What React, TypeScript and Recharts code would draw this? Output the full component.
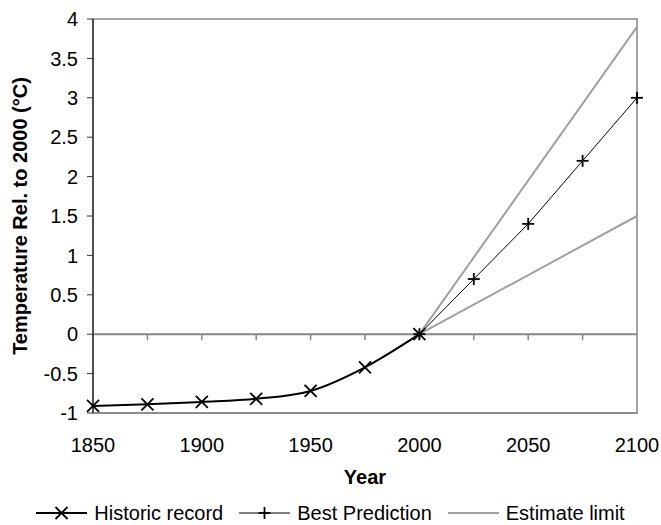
import React from 'react';
import {
  LineChart,
  Line,
  XAxis,
  YAxis,
  Legend,
  ReferenceLine,
  ReferenceArea,
} from 'recharts';

const years = [1850, 1875, 1900, 1925, 1950, 1975, 2000, 2025, 2050, 2075, 2100];
const historic = [-0.91, -0.89, -0.86, -0.82, -0.72, -0.42, 0, null, null, null, null];
const best = [null, null, null, null, null, null, 0, 0.7, 1.4, 2.2, 3.0];
const upperLimit = [null, null, null, null, null, null, 0, null, null, null, 3.9];
const lowerLimit = [null, null, null, null, null, null, 0, null, null, null, 1.5];

const xTicks = [1850, 1900, 1950, 2000, 2050, 2100];
const yTicks = [-1, -0.5, 0, 0.5, 1, 1.5, 2, 2.5, 3, 3.5, 4];
const zeroTicks = [1875, 1900, 1925, 1950, 1975, 2000, 2025, 2050, 2075];
const legendOrder = ['historic', 'best', 'upper'];

const data = years.map((year, i) => ({
  year,
  historic: historic[i],
  best: best[i],
  upper: upperLimit[i],
  lower: lowerLimit[i],
}));

const FONT = '"Liberation Sans", Arial, sans-serif';
const AXIS = '#868686';
const LIMIT = '#a0a0a0';

const XMark = ({ cx, cy, r = 6 }: any) => (
  <g stroke='#000' strokeWidth={1.8}>
    <line x1={cx - r} y1={cy - r} x2={cx + r} y2={cy + r} />
    <line x1={cx - r} y1={cy + r} x2={cx + r} y2={cy - r} />
  </g>
);

const PlusMark = ({ cx, cy, r = 6 }: any) => (
  <g stroke='#000' strokeWidth={1.8}>
    <line x1={cx - r} y1={cy} x2={cx + r} y2={cy} />
    <line x1={cx} y1={cy - r} x2={cx} y2={cy + r} />
  </g>
);

const xDot = (props: any) => {
  const { cx, cy, index } = props;
  if (cx == null || cy == null || props.value == null) return <g key={index} />;
  return <XMark key={index} cx={cx} cy={cy} />;
};

const plusDot = (props: any) => {
  const { cx, cy, index } = props;
  if (cx == null || cy == null || props.value == null) return <g key={index} />;
  return <PlusMark key={index} cx={cx} cy={cy} />;
};

const renderLegend = (props: any) => {
  const { payload = [] } = props;
  const items = legendOrder
    .map((k) => payload.find((p: any) => p.dataKey === k))
    .filter(Boolean);
  return (
    <div
      style={{
        display: 'flex',
        justifyContent: 'center',
        gap: 16,
        paddingTop: 18,
        height: 42,
        boxSizing: 'border-box',
        fontFamily: FONT,
        fontSize: 20,
        lineHeight: '24px',
        color: '#000',
        whiteSpace: 'nowrap',
      }}
    >
      {items.map((entry: any) => {
        const key = entry.dataKey;
        const color = key === 'upper' ? LIMIT : '#000';
        const width = key === 'best' ? 1 : 2;
        return (
          <div key={key} style={{ display: 'flex', alignItems: 'center', flexShrink: 0 }}>
            <svg width={51} height={16}>
              <line x1={0} y1={8} x2={51} y2={8} stroke={color} strokeWidth={width} />
              {key === 'historic' && <XMark cx={25.5} cy={8} />}
              {key === 'best' && <PlusMark cx={25.5} cy={8} />}
            </svg>
            <span style={{ marginLeft: 7 }}>{entry.value}</span>
          </div>
        );
      })}
    </div>
  );
};

const YLabel = ({ viewBox }: any) => {
  const x = viewBox.x + 20;
  const y = viewBox.y + viewBox.height / 2;
  return (
    <text
      x={x}
      y={y}
      transform={`rotate(-90, ${x}, ${y})`}
      textAnchor='middle'
      dominantBaseline='central'
      fontFamily={FONT}
      fontSize={20}
      fontWeight='bold'
      fill='#000'
    >
      Temperature Rel. to 2000 (°C)
    </text>
  );
};

const XLabel = ({ viewBox }: any) => (
  <text
    x={viewBox.x + viewBox.width / 2}
    y={viewBox.y + 64}
    textAnchor='middle'
    dominantBaseline='central'
    fontFamily={FONT}
    fontSize={20}
    fontWeight='bold'
    fill='#000'
  >
    Year
  </text>
);

const tickLen = 6 / 78.8;

const App: React.FC = () => {
  return (
    <div style={{ position: 'absolute', left: 0, top: 0, background: '#fff' }}>
      <LineChart
        width={661}
        height={525}
        data={data}
        margin={{ top: 19, right: 24, bottom: 0, left: 0 }}
        style={{ fontFamily: FONT }}
      >
        <XAxis
          dataKey='year'
          type='number'
          domain={[1850, 2100]}
          ticks={xTicks}
          height={70}
          tickLine={false}
          tickSize={6}
          tickMargin={19}
          axisLine={{ stroke: AXIS, strokeWidth: 1.5 }}
          tick={{ fill: '#000', fontSize: 20, fontFamily: FONT }}
          label={<XLabel />}
        />
        <YAxis
          type='number'
          domain={[-1, 4]}
          ticks={yTicks}
          width={93}
          tickSize={6}
          tickMargin={9}
          interval={0}
          axisLine={{ stroke: '#333', strokeWidth: 1.5 }}
          tickLine={{ stroke: '#333' }}
          tick={{ fill: '#000', fontSize: 20, fontFamily: FONT }}
          label={<YLabel />}
        />
        <ReferenceArea
          x1={1850}
          x2={2100}
          y1={-1}
          y2={4}
          fill='none'
          stroke={AXIS}
          strokeWidth={1.5}
        />
        <ReferenceLine y={0} stroke={AXIS} strokeWidth={2} />
        {zeroTicks.map((yr) => (
          <ReferenceLine
            key={yr}
            segment={[
              { x: yr, y: 0 },
              { x: yr, y: -tickLen },
            ]}
            stroke={AXIS}
            strokeWidth={1.5}
          />
        ))}
        <Legend verticalAlign='bottom' content={renderLegend} wrapperStyle={{ left: 0, width: 661 }} />
        <Line
          dataKey='upper'
          name='Estimate limit'
          stroke={LIMIT}
          strokeWidth={2}
          dot={false}
          activeDot={false}
          connectNulls
          isAnimationActive={false}
        />
        <Line
          dataKey='lower'
          name='Estimate limit'
          stroke={LIMIT}
          strokeWidth={2}
          dot={false}
          activeDot={false}
          connectNulls
          legendType='none'
          isAnimationActive={false}
        />
        <Line
          dataKey='best'
          name='Best Prediction'
          stroke='#000'
          strokeWidth={1}
          dot={plusDot}
          activeDot={false}
          isAnimationActive={false}
        />
        <Line
          dataKey='historic'
          name='Historic record'
          type='monotone'
          stroke='#000'
          strokeWidth={2}
          dot={xDot}
          activeDot={false}
          isAnimationActive={false}
        />
      </LineChart>
    </div>
  );
};

export default App;
